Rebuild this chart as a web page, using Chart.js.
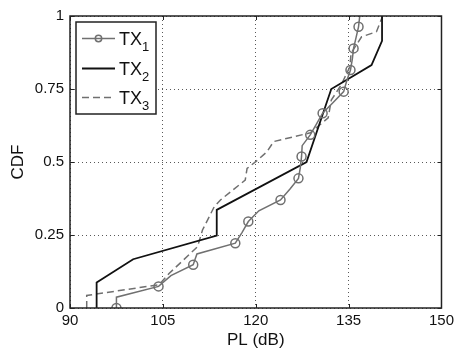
<!DOCTYPE html>
<html>
<head>
<meta charset="utf-8">
<script src="https://cdn.jsdelivr.net/npm/chart.js@4/dist/chart.umd.min.js"></script>
<style>
html,body{margin:0;padding:0;background:#fff;}
canvas{display:block;}
</style>
</head>
<body>
<canvas id="c" width="458" height="352"></canvas>
<script>
// ---- data ----
const seriesNames = ['TX1', 'TX2', 'TX3'];
const xTicks = [90, 105, 120, 135, 150];
const yTicks = [0, 0.25, 0.5, 0.75, 1];
const yTickLabels = ['0', '0.25', '0.5', '0.75', '1'];
const xTitle = 'PL (dB)';
const yTitle = 'CDF';

const tx1X = [97.5, 97.5, 104.3, 106.3, 109.9, 110.5, 116.7, 117.8, 118.8, 120.5, 124.0, 125.5, 126.9, 127.2,
              127.4, 127.5, 128.8, 129.8, 130.8, 132.5, 134.2, 134.7, 135.3, 135.6, 135.8, 136.2, 136.6, 136.8];
const tx1Y = [0, 0.037, 0.074, 0.111, 0.148, 0.185, 0.222, 0.259, 0.296, 0.333, 0.370, 0.407, 0.444, 0.481,
              0.519, 0.556, 0.593, 0.630, 0.667, 0.704, 0.741, 0.778, 0.815, 0.852, 0.889, 0.926, 0.963, 1];

const tx2X = [94.3, 94.3, 100.2, 113.7, 113.7, 128.2, 132.2, 138.7, 140.4, 140.4];
const tx2Y = [0, 0.087, 0.167, 0.248, 0.336, 0.500, 0.750, 0.832, 0.915, 1];

const tx3X = [92.7, 92.7, 104.4, 106.0, 110.6, 111.4, 113.3, 114.3, 118.3, 118.6, 120.0, 121.8, 122.9,
              128.8, 131.7, 132.2, 133.8, 135.2, 135.4, 137.1, 139.5, 140.5];
const tx3Y = [0, 0.043, 0.080, 0.118, 0.210, 0.267, 0.347, 0.370, 0.438, 0.478, 0.501, 0.535, 0.570,
              0.600, 0.651, 0.712, 0.764, 0.826, 0.873, 0.929, 0.946, 1.0];

// ---- styles ----
const FONT = '"Liberation Sans", Arial, sans-serif';
const GREY = '#707070';
const BLACK = '#111111';
const FRAME = '#222222';

function pts(xs, ys) { return xs.map((x, i) => ({x: x, y: ys[i]})); }

const tx1Radius = tx1X.map((_, i) => (i % 2 === 0 && i < tx1X.length - 1) ? 4.5 : 0);

const styles = [
  {color: GREY, width: 1.5, dash: [], marker: true},
  {color: BLACK, width: 1.8, dash: [], marker: false},
  {color: GREY, width: 1.5, dash: [7, 4], marker: false}
];

const framePlugin = {
  id: 'frame',
  afterDraw(chart) {
    const ctx = chart.ctx, a = chart.chartArea;
    const xs = chart.scales.x, ys = chart.scales.y;
    ctx.save();
    ctx.strokeStyle = FRAME;
    ctx.lineWidth = 1.5;
    ctx.setLineDash([]);
    ctx.strokeRect(a.left, a.top, a.right - a.left, a.bottom - a.top);
    ctx.lineWidth = 1;
    const tl = 4;
    xTicks.forEach(v => {
      const p = Math.round(xs.getPixelForValue(v)) + 0.5;
      ctx.beginPath();
      ctx.moveTo(p, a.bottom); ctx.lineTo(p, a.bottom - tl);
      ctx.moveTo(p, a.top); ctx.lineTo(p, a.top + tl);
      ctx.stroke();
    });
    yTicks.forEach(v => {
      const p = Math.round(ys.getPixelForValue(v)) + 0.5;
      ctx.beginPath();
      ctx.moveTo(a.left, p); ctx.lineTo(a.left + tl, p);
      ctx.moveTo(a.right, p); ctx.lineTo(a.right - tl, p);
      ctx.stroke();
    });

    // legend box inside the plot, top-left
    const bx = a.left + 6, by = a.top + 6, bw = 80, bh = 92;
    ctx.fillStyle = '#fff';
    ctx.fillRect(bx, by, bw, bh);
    ctx.strokeStyle = FRAME;
    ctx.lineWidth = 1.5;
    ctx.strokeRect(bx, by, bw, bh);
    const rowY = [by + 16.5, by + 46.5, by + 75.5];
    seriesNames.forEach((name, i) => {
      const st = styles[i];
      const y = rowY[i];
      const x0 = bx + 6, x1 = bx + 39;
      ctx.strokeStyle = st.color;
      ctx.lineWidth = st.width;
      ctx.setLineDash(st.dash);
      ctx.beginPath();
      ctx.moveTo(x0, y); ctx.lineTo(x1, y);
      ctx.stroke();
      ctx.setLineDash([]);
      if (st.marker) {
        ctx.beginPath();
        ctx.arc((x0 + x1) / 2, y, 3.2, 0, Math.PI * 2);
        ctx.lineWidth = 1.5;
        ctx.stroke();
      }
      const base = name.replace(/\d+$/, '');
      const sub = name.slice(base.length);
      ctx.fillStyle = '#111';
      ctx.textBaseline = 'alphabetic';
      ctx.textAlign = 'left';
      ctx.font = '18px ' + FONT;
      const tx = bx + 43;
      ctx.fillText(base, tx, y + 6);
      const w = ctx.measureText(base).width;
      ctx.font = '13px ' + FONT;
      ctx.fillText(sub, tx + w, y + 12);
    });
    ctx.restore();
  }
};

new Chart(document.getElementById('c'), {
  type: 'line',
  data: {
    datasets: [
      {label: seriesNames[0], data: pts(tx1X, tx1Y), borderColor: GREY, borderWidth: 1.5,
       pointRadius: tx1Radius, pointBorderColor: GREY, pointBorderWidth: 1.5,
       pointBackgroundColor: 'rgba(0,0,0,0)', tension: 0},
      {label: seriesNames[1], data: pts(tx2X, tx2Y), borderColor: BLACK, borderWidth: 1.8,
       pointRadius: 0, tension: 0},
      {label: seriesNames[2], data: pts(tx3X, tx3Y), borderColor: GREY, borderWidth: 1.5,
       borderDash: [7, 4], pointRadius: 0, tension: 0}
    ]
  },
  options: {
    responsive: false,
    animation: false,
    layout: {padding: {left: 0, right: 14, top: 16, bottom: 0}},
    plugins: {legend: {display: false}, tooltip: {enabled: false}},
    scales: {
      x: {
        type: 'linear', min: 90, max: 150,
        afterBuildTicks: s => { s.ticks = xTicks.map(v => ({value: v})); },
        afterFit: s => { s.height = 44; },
        ticks: {color: '#111', font: {family: FONT, size: 15}, padding: 4,
                callback: v => String(v)},
        grid: {drawTicks: false, color: 'rgba(0,0,0,0.65)', lineWidth: 1},
        border: {display: false, dash: [1, 3]},
        title: {display: true, text: xTitle, color: '#111',
                font: {family: FONT, size: 17}, padding: {top: 0, bottom: 1}}
      },
      y: {
        type: 'linear', min: 0, max: 1,
        afterBuildTicks: s => { s.ticks = yTicks.map(v => ({value: v})); },
        afterFit: s => { s.width = 70; },
        ticks: {color: '#111', font: {family: FONT, size: 15}, padding: 6,
                callback: (v) => { const i = yTicks.indexOf(v); return i >= 0 ? yTickLabels[i] : ''; }},
        grid: {drawTicks: false, color: 'rgba(0,0,0,0.65)', lineWidth: 1},
        border: {display: false, dash: [1, 3]},
        title: {display: true, text: yTitle, color: '#111',
                font: {family: FONT, size: 17}, padding: {top: 8, bottom: 0}}
      }
    }
  },
  plugins: [framePlugin]
});
</script>
</body>
</html>
